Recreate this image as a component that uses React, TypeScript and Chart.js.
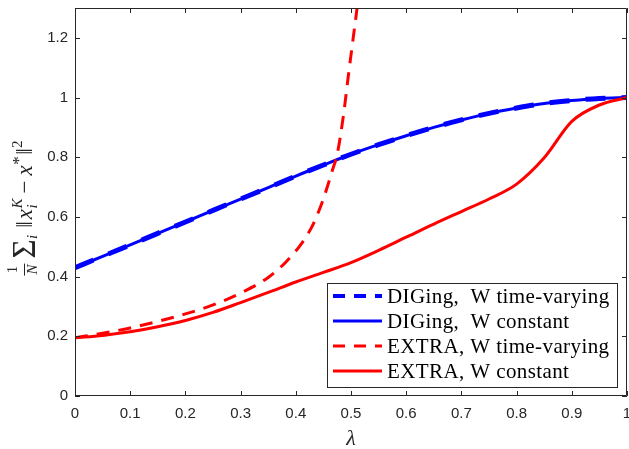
import React, { useEffect, useRef } from "react";
import { Chart, registerables } from "chart.js";

Chart.register(...registerables);

// ---- data ----
const xTickValues = [0, 0.1, 0.2, 0.3, 0.4, 0.5, 0.6, 0.7, 0.8, 0.9, 1];
const xTickLabels = ["0", "0.1", "0.2", "0.3", "0.4", "0.5", "0.6", "0.7", "0.8", "0.9", "1"];
const yTickValues = [0, 0.2, 0.4, 0.6, 0.8, 1, 1.2];
const yTickLabels = ["0", "0.2", "0.4", "0.6", "0.8", "1", "1.2"];

const lambda = [0, 0.05, 0.1, 0.15, 0.2, 0.25, 0.3, 0.35, 0.4, 0.45, 0.5, 0.55, 0.6, 0.65, 0.7, 0.75, 0.8, 0.85, 0.9, 0.95, 1];
const digingTimeVarying = [0.43, 0.468, 0.506, 0.545, 0.583, 0.622, 0.66, 0.698, 0.737, 0.774, 0.81, 0.842, 0.872, 0.9, 0.925, 0.947, 0.965, 0.98, 0.99, 0.997, 1.0];
const digingConstant = [0.43, 0.468, 0.506, 0.545, 0.583, 0.622, 0.66, 0.698, 0.737, 0.774, 0.81, 0.842, 0.872, 0.9, 0.925, 0.947, 0.965, 0.98, 0.99, 0.997, 1.0];
const extraConstant = [0.195, 0.203, 0.215, 0.232, 0.253, 0.28, 0.313, 0.347, 0.382, 0.414, 0.447, 0.488, 0.532, 0.576, 0.618, 0.66, 0.71, 0.798, 0.92, 0.975, 1.0];

const extraTvLambda = [0, 0.05, 0.1, 0.15, 0.2, 0.25, 0.3, 0.35, 0.38, 0.41, 0.43, 0.447, 0.457, 0.466, 0.475, 0.486, 0.495, 0.504, 0.511, 0.52];
const extraTimeVarying = [0.195, 0.21, 0.228, 0.25, 0.275, 0.305, 0.345, 0.397, 0.445, 0.51, 0.57, 0.645, 0.70, 0.755, 0.81, 0.936, 1.07, 1.2, 1.3, 1.45];

const seriesLabels = [
  "DIGing,  W time-varying",
  "DIGing,  W constant",
  "EXTRA, W time-varying",
  "EXTRA, W constant",
];
const seriesColors = ["#0000ff", "#0000ff", "#ff0000", "#ff0000"];

const AXIS = "#262626";
const SERIF = "'Liberation Serif', 'Times New Roman', serif";
const SANS = "'Liberation Sans', Arial, Helvetica, sans-serif";

const zip = (xs: number[], ys: number[]) => xs.map((x, i) => ({ x, y: ys[i] }));

const styles = [
  { width: 5, dash: [20, 16] },
  { width: 3, dash: [] as number[] },
  { width: 3, dash: [13, 9] },
  { width: 3, dash: [] as number[] },
];

const framePlugin = {
  id: "frameTicks",
  afterDatasetsDraw(chart: any) {
    const { ctx, chartArea, scales } = chart;
    const { left, right, top, bottom } = chartArea;
    const x = scales.x;
    const y = scales.y;
    ctx.save();
    ctx.strokeStyle = AXIS;
    ctx.lineWidth = 1;
    ctx.setLineDash([]);
    ctx.beginPath();
    ctx.rect(left + 0.5, top + 0.5, right - left - 1, bottom - top - 1);
    ctx.stroke();
    const tl = 5;
    ctx.beginPath();
    xTickValues.forEach((v) => {
      const px = Math.round(x.getPixelForValue(v)) + 0.5;
      ctx.moveTo(px, bottom);
      ctx.lineTo(px, bottom - tl);
      ctx.moveTo(px, top);
      ctx.lineTo(px, top + tl);
    });
    yTickValues.forEach((v) => {
      const py = Math.round(y.getPixelForValue(v)) + 0.5;
      ctx.moveTo(left, py);
      ctx.lineTo(left + tl, py);
      ctx.moveTo(right, py);
      ctx.lineTo(right - tl, py);
    });
    ctx.stroke();
    ctx.restore();
  },
  afterDraw(chart: any) {
    const { ctx, chartArea } = chart;
    ctx.save();
    // ---- legend ----
    const lx = 327.5, ly = 283.5, lw = 290, lh = 104;
    ctx.fillStyle = "#ffffff";
    ctx.fillRect(lx, ly, lw, lh);
    ctx.strokeStyle = AXIS;
    ctx.lineWidth = 1;
    ctx.setLineDash([]);
    ctx.strokeRect(lx, ly, lw, lh);
    const rowY = [296, 321, 346, 371];
    ctx.font = `21px ${SERIF}`;
    (ctx as any).letterSpacing = "0.4px";
    ctx.textBaseline = "middle";
    ctx.textAlign = "left";
    seriesLabels.forEach((lab, i) => {
      const yy = rowY[i];
      ctx.strokeStyle = seriesColors[i];
      ctx.lineWidth = i === 0 ? 4 : 3;
      ctx.setLineDash(i === 0 || i === 2 ? [12, 9] : []);
      ctx.beginPath();
      ctx.moveTo(333, yy);
      ctx.lineTo(382, yy);
      ctx.stroke();
      ctx.setLineDash([]);
      ctx.fillStyle = "#000000";
      ctx.fillText(lab, 387, yy + 1);
    });
    (ctx as any).letterSpacing = "0px";

    // ---- x axis title (lambda) ----
    ctx.font = `italic 22px ${SERIF}`;
    ctx.textAlign = "center";
    ctx.textBaseline = "alphabetic";
    ctx.fillStyle = AXIS;
    ctx.fillText("λ", (chartArea.left + chartArea.right) / 2, 445);

    // ---- y axis title: (1/N) Σ_i ‖x_i^K − x*‖² ----
    const main = `23px ${SERIF}`;
    const mainI = `italic 23px ${SERIF}`;
    const small = `15px ${SERIF}`;
    const smallI = `italic 15px ${SERIF}`;
    const big = `33px ${SERIF}`;
    const measure = (t: string, f: string) => {
      ctx.font = f;
      return ctx.measureText(t).width;
    };
    const draw = (x0: number) => {
      let cx = x0;
      const w1 = measure("1", small);
      const wN = measure("N", smallI);
      const fw = Math.max(w1, wN) + 2;
      ctx.font = small;
      ctx.textAlign = "center";
      ctx.fillText("1", cx + fw / 2, -15);
      ctx.font = smallI;
      ctx.fillText("N", cx + fw / 2, 5);
      ctx.fillRect(cx, -8, fw, 1);
      ctx.textAlign = "left";
      cx += fw + 5;
      ctx.font = big;
      ctx.fillText("Σ", cx, 3);
      cx += measure("Σ", big) + 0.5;
      ctx.font = smallI;
      ctx.fillText("i", cx, 5);
      cx += measure("i", smallI) + 7;
      ctx.font = main;
      ctx.fillText("‖", cx, 0);
      cx += measure("‖", main) + 2;
      ctx.font = mainI;
      ctx.fillText("x", cx, 0);
      cx += measure("x", mainI) + 0.5;
      ctx.font = smallI;
      ctx.fillText("K", cx, -10);
      ctx.fillText("i", cx, 5);
      cx += Math.max(measure("K", smallI), measure("i", smallI)) + 5;
      ctx.font = main;
      ctx.fillText("−", cx, 0);
      cx += measure("−", main) + 5;
      ctx.font = mainI;
      ctx.fillText("x", cx, 0);
      cx += measure("x", mainI) + 0.5;
      ctx.font = `17px ${SERIF}`;
      ctx.fillText("*", cx, -8);
      cx += measure("*", `17px ${SERIF}`) + 1.5;
      ctx.font = main;
      ctx.fillText("‖", cx, 0);
      cx += measure("‖", main) + 0.5;
      ctx.font = small;
      ctx.fillText("2", cx, -10);
      cx += measure("2", small);
      return cx - x0;
    };
    ctx.textAlign = "left";
    ctx.textBaseline = "alphabetic";
    ctx.save();
    ctx.globalAlpha = 0;
    const total = draw(0);
    ctx.restore();
    ctx.translate(32, 208);
    ctx.rotate(-Math.PI / 2);
    ctx.fillStyle = AXIS;
    draw(-total / 2);
    ctx.restore();
  },
};

const zeroPad = (s: any) => {
  s.paddingLeft = 0;
  s.paddingRight = 0;
  s.paddingTop = 0;
  s.paddingBottom = 0;
};

export default function App() {
  const ref = useRef<HTMLCanvasElement | null>(null);
  useEffect(() => {
    document.body.style.margin = "0";
    const canvas = ref.current!;
    const datasets = [
      { data: zip(lambda, digingTimeVarying), order: 4 },
      { data: zip(lambda, digingConstant), order: 3 },
      { data: zip(extraTvLambda, extraTimeVarying), order: 2 },
      { data: zip(lambda, extraConstant), order: 1 },
    ].map((d, i) => ({
      label: seriesLabels[i],
      data: d.data,
      order: d.order,
      borderColor: seriesColors[i],
      backgroundColor: seriesColors[i],
      borderWidth: styles[i].width,
      borderDash: styles[i].dash,
      pointRadius: 0,
      fill: false,
      cubicInterpolationMode: "monotone" as const,
    }));
    const chart = new Chart(canvas, {
      type: "line",
      data: { datasets },
      options: {
        responsive: false,
        animation: false,
        events: [],
        layout: { padding: { top: 8, right: 2, left: 0, bottom: 0 } },
        plugins: { legend: { display: false }, tooltip: { enabled: false } },
        scales: {
          x: {
            type: "linear",
            min: 0,
            max: 1,
            afterBuildTicks: (s: any) => {
              s.ticks = xTickValues.map((v) => ({ value: v }));
            },
            afterFit: (s: any) => {
              s.height = 53;
              zeroPad(s);
            },
            ticks: {
              autoSkip: false,
              maxRotation: 0,
              padding: 9,
              color: AXIS,
              font: { family: SANS, size: 15 },
              callback: (_v: any, i: number) => xTickLabels[i],
            },
            grid: { display: false, drawTicks: false },
            border: { display: false },
          },
          y: {
            type: "linear",
            min: 0,
            max: 1.3,
            afterBuildTicks: (s: any) => {
              s.ticks = yTickValues.map((v) => ({ value: v }));
            },
            afterFit: (s: any) => {
              s.width = 75;
              zeroPad(s);
            },
            ticks: {
              autoSkip: false,
              padding: 7,
              color: AXIS,
              font: { family: SANS, size: 15 },
              callback: (_v: any, i: number) => yTickLabels[i],
            },
            grid: { display: false, drawTicks: false },
            border: { display: false },
          },
        },
      },
      plugins: [framePlugin],
    });
    return () => chart.destroy();
  }, []);
  return <canvas ref={ref} width={629} height={449} style={{ display: "block" }} />;
}
